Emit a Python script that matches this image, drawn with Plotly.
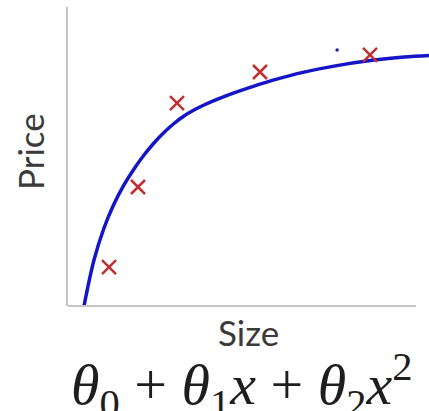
import plotly.graph_objects as go

# Data (arbitrary units)
point_size = [11.78, 20.11, 31.31, 55.15, 86.75]
point_price = [13.04, 39.80, 67.89, 78.26, 83.95]

curve_size = [4.60, 7.47, 10.34, 13.21, 16.08, 18.96, 21.83, 24.70, 27.57, 30.45, 33.32,
              36.19, 39.06, 41.93, 44.81, 47.68, 53.42, 59.17, 67.79, 76.41, 87.90,
              96.52, 103.70]
curve_price = [0.0, 15.38, 26.09, 34.11, 40.47, 45.82, 50.50, 54.52, 58.03, 61.04, 63.55,
               65.55, 67.22, 68.70, 70.03, 71.27, 73.55, 75.62, 78.23, 80.23, 82.24,
               83.28, 83.81]

stray_size = [77.3]
stray_price = [85.6]

x_label = "Size"
y_label = "Price"
formula = ("<i>θ</i><sub>0</sub> + <i>θ</i><sub>1</sub><i>x</i> + "
           "<i>θ</i><sub>2</sub><i>x</i><sup>2</sup>")

W, H = 429, 411
L, R, T, B = 68, 0, 7, 105

fig = go.Figure()
fig.add_trace(go.Scatter(x=curve_size, y=curve_price, mode="lines",
                         line=dict(color="#1414c8", width=3.5, shape="spline", smoothing=1.0),
                         hoverinfo="skip", showlegend=False))
fig.add_trace(go.Scatter(x=point_size, y=point_price, mode="markers",
                         marker=dict(symbol="x-thin", size=14,
                                     line=dict(color="#c03030", width=2.5)),
                         showlegend=False, cliponaxis=False))
fig.add_trace(go.Scatter(x=stray_size, y=stray_price, mode="markers",
                         marker=dict(symbol="circle", size=3.5, color="#2020a0"),
                         showlegend=False))

plot_w = W - L - R
plot_h = H - T - B
x_end = (416 - L) / plot_w

fig.update_layout(
    width=W, height=H,
    margin=dict(l=L, r=R, t=T, b=B, pad=0),
    paper_bgcolor="white", plot_bgcolor="white",
    xaxis=dict(range=[0, 103.7], showgrid=False, zeroline=False, showline=False,
               showticklabels=False, ticks=""),
    yaxis=dict(range=[0, 100], showgrid=False, zeroline=False, showline=True,
               linecolor="#c4c4c4", linewidth=2, showticklabels=False, ticks=""),
    shapes=[dict(type="line", xref="paper", yref="paper", x0=0, x1=x_end, y0=0, y1=0,
                 line=dict(color="#c4c4c4", width=2))],
    annotations=[
        dict(text=y_label, xref="paper", yref="paper",
             x=(30 - L) / plot_w, y=(306 - 152) / plot_h, xanchor="center", yanchor="middle",
             textangle=-90, showarrow=False,
             font=dict(family="Lato", size=35, color="#3a3a3a")),
        dict(text=x_label, xref="paper", yref="paper",
             x=(248 - L) / plot_w, y=(306 - 332) / plot_h, xanchor="center", yanchor="middle",
             showarrow=False,
             font=dict(family="Lato", size=35, color="#3a3a3a")),
        dict(text=formula, xref="paper", yref="paper",
             x=(242 - L) / plot_w, y=(306 - 385) / plot_h, xanchor="center", yanchor="middle",
             showarrow=False,
             font=dict(family="Liberation Serif", size=58, color="#1e1e1e")),
    ],
)

fig.write_html("out.html", config={"displayModeBar": False},
               post_script="document.body.style.margin='0';")
